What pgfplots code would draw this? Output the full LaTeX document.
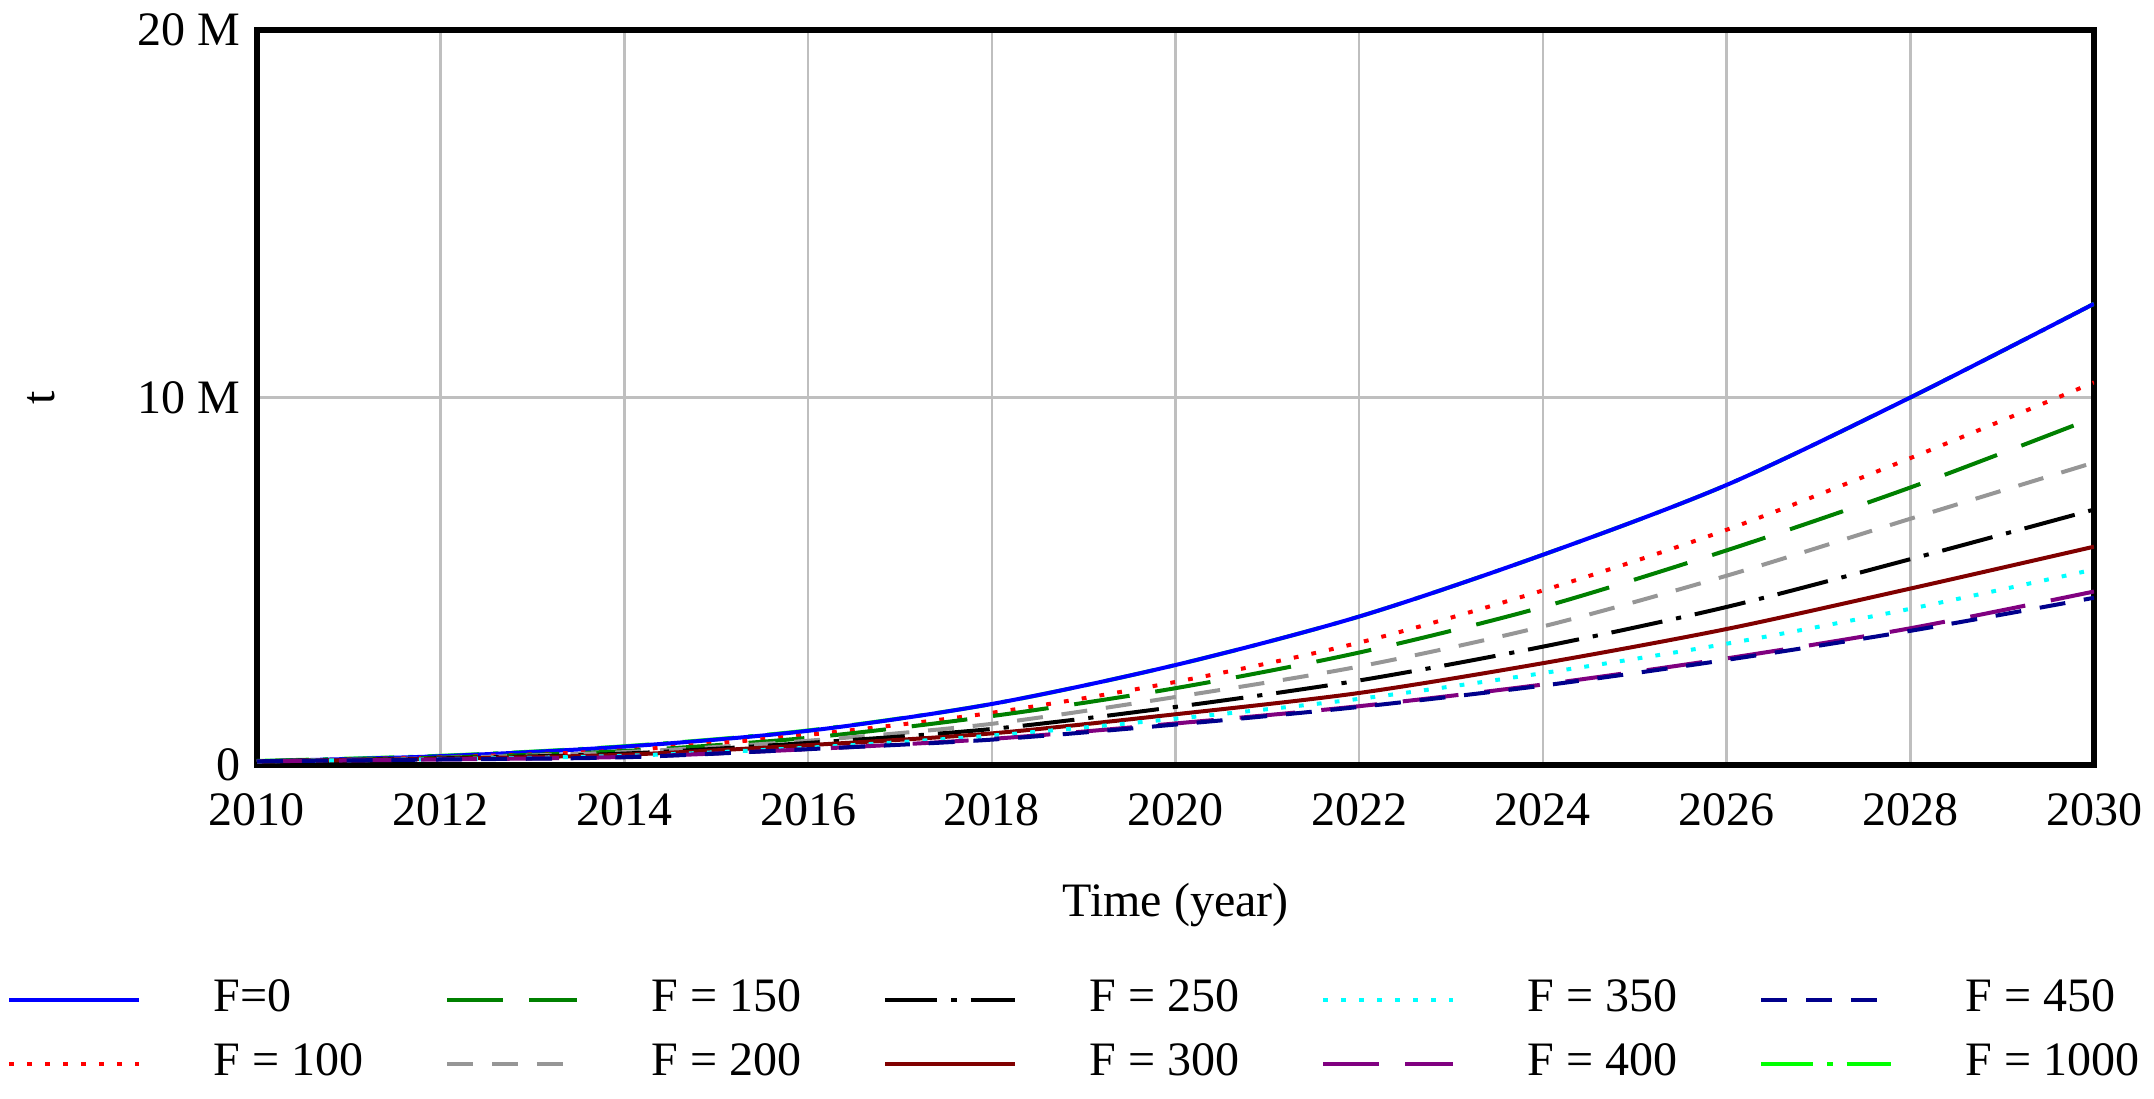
\documentclass[border=0pt]{standalone}
\usepackage{fontspec}
\setmainfont{Liberation Serif}
\usepackage{pgfplots}
\usepackage{pgfplotstable}
\pgfplotsset{compat=1.18}

\definecolor{cBlue}{RGB}{0,0,255}
\definecolor{cRed}{RGB}{255,0,0}
\definecolor{cGreen}{RGB}{0,128,0}
\definecolor{cGray}{RGB}{150,150,150}
\definecolor{cBlack}{RGB}{0,0,0}
\definecolor{cDRed}{RGB}{128,0,0}
\definecolor{cCyan}{RGB}{0,255,255}
\definecolor{cPurple}{RGB}{128,0,128}
\definecolor{cNavy}{RGB}{0,0,140}
\definecolor{cLime}{RGB}{0,255,0}

\pgfplotsset{
  sA/.style={cBlue, line width=1pt, solid},
  sB/.style={cRed, line width=1pt, dash pattern=on 1.2pt off 3.3pt},
  sC/.style={cGreen, line width=1pt, dash pattern=on 14pt off 6.5pt},
  sD/.style={cGray, line width=1pt, dash pattern=on 6.5pt off 4.7pt},
  sE/.style={cBlack, line width=1pt, dash pattern=on 13pt off 3.5pt on 1.3pt off 3.5pt},
  sF/.style={cDRed, line width=1pt, solid},
  sG/.style={cCyan, line width=1pt, dash pattern=on 1.2pt off 3.3pt},
  sH/.style={cPurple, line width=1pt, dash pattern=on 14pt off 6.5pt},
  sI/.style={cNavy, line width=1pt, dash pattern=on 6.5pt off 4.7pt},
  sJ/.style={cLime, line width=1pt, dash pattern=on 13pt off 3.5pt on 1.3pt off 3.5pt},
}

% values in millions of t
\pgfplotstableread{
year  F0     F100   F150   F200   F250   F300   F350   F400   F450   F1000
2010  0.10   0.10   0.10   0.10   0.10   0.10   0.10   0.10   0.10   0.11
2012  0.24   0.21   0.20   0.19   0.18   0.17   0.16   0.15   0.15   0.25
2014  0.50   0.40   0.38   0.35   0.31   0.28   0.25   0.22   0.21   0.51
2016  0.93   0.82   0.74   0.66   0.60   0.54   0.47   0.43   0.43   0.94
2018  1.66   1.42   1.33   1.12   0.98   0.86   0.80   0.71   0.69   1.66
2020  2.72   2.26   2.09   1.85   1.58   1.38   1.26   1.13   1.10   2.72
2022  4.04   3.33   3.06   2.68   2.30   1.96   1.80   1.60   1.58   4.04
2024  5.72   4.75   4.30   3.77   3.22   2.77   2.50   2.19   2.16   5.72
2026  7.62   6.40   5.84   5.15   4.30   3.70   3.30   2.90   2.86   7.62
2028  10.00  8.35   7.55   6.70   5.60   4.80   4.25   3.72   3.65   10.00
2030  12.55  10.41  9.45   8.23   6.95   5.94   5.32   4.72   4.55   12.55
}\datatable

\newcommand{\lent}[1]{\hspace{18pt}\makebox[58pt][l]{#1}}

\begin{document}
\fontsize{12}{14}\selectfont
\begin{tikzpicture}
\begin{axis}[
  name=ax,
  scale only axis,
  width=459.25pt, height=183.75pt,
  xmin=2010, xmax=2030, ymin=0, ymax=20,
  xtick={2010,2012,...,2030},
  ytick={0,10,20},
  yticklabels={0,10 M,20 M},
  /pgf/number format/1000 sep={},
  /pgf/number format/assume math mode=true,
  major tick length=0pt,
  xmajorgrids, ymajorgrids,
  grid style={color=black!25, line width=0.6pt},
  axis line style={black, line width=1.6pt},
  xticklabel style={yshift=-3pt},
  xlabel={Time (year)},
  ylabel={t},
  xlabel style={at={(axis description cs:0.5,0)}, anchor=center, yshift=-35pt},
  ylabel style={at={(axis description cs:-0.1176,0.5)}, anchor=center},
  legend image code/.code={\draw[#1] (0pt,0pt) -- (32.5pt,0pt);},
  legend columns=5,
  legend style={draw=none, fill=none, at={(axis description cs:0,0)}, anchor=north west,
    xshift=-65.6pt, yshift=-51pt,
    nodes={inner sep=0pt, text height=8.5pt, text depth=2.5pt},
    column sep=0pt, row sep=5pt},
  legend cell align=left,
]
\addplot[sJ, smooth, forget plot] table[x=year, y=F1000] {\datatable};
\addplot[sA, smooth, forget plot] table[x=year, y=F0] {\datatable};
\addplot[sB, smooth, forget plot] table[x=year, y=F100] {\datatable};
\addplot[sC, smooth, forget plot] table[x=year, y=F150] {\datatable};
\addplot[sD, smooth, forget plot] table[x=year, y=F200] {\datatable};
\addplot[sE, smooth, forget plot] table[x=year, y=F250] {\datatable};
\addplot[sF, smooth, forget plot] table[x=year, y=F300] {\datatable};
\addplot[sG, smooth, forget plot] table[x=year, y=F350] {\datatable};
\addplot[sH, smooth, forget plot] table[x=year, y=F400] {\datatable};
\addplot[sI, smooth, forget plot] table[x=year, y=F450] {\datatable};

\addlegendimage{sA}\addlegendentry{\lent{F=0}}
\addlegendimage{sC}\addlegendentry{\lent{F = 150}}
\addlegendimage{sE}\addlegendentry{\lent{F = 250}}
\addlegendimage{sG}\addlegendentry{\lent{F = 350}}
\addlegendimage{sI}\addlegendentry{\lent{F = 450}}
\addlegendimage{sB}\addlegendentry{\lent{F = 100}}
\addlegendimage{sD}\addlegendentry{\lent{F = 200}}
\addlegendimage{sF}\addlegendentry{\lent{F = 300}}
\addlegendimage{sH}\addlegendentry{\lent{F = 400}}
\addlegendimage{sJ}\addlegendentry{\lent{F = 1000}}
\end{axis}
\pgfresetboundingbox
\path[use as bounding box] ([shift={(-64.25pt,-83.5pt)}]ax.south west) rectangle ([shift={(15pt,7.5pt)}]ax.north east);
\end{tikzpicture}
\end{document}
